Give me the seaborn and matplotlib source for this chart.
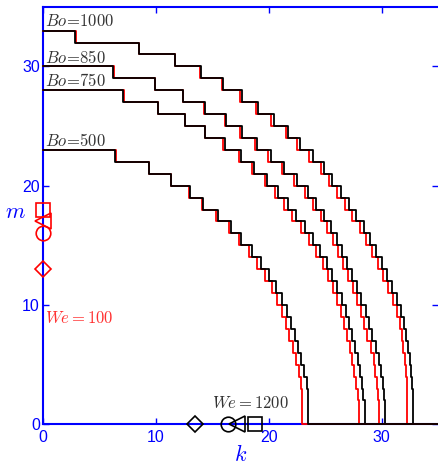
import seaborn as sns
import pandas as pd
import matplotlib.pyplot as plt

# k positions where each staircase drops one level in m (top level first)
top_1000 = 33
black_1000 = [2.85, 8.5, 11.7, 14.0, 16.0, 17.65, 19.1, 20.5, 21.75, 22.8, 23.9, 24.9, 25.65,
              26.4, 27.1, 27.75, 28.45, 29.0, 29.5, 30.05, 30.5, 30.95, 31.4, 31.75, 32.0,
              32.2, 32.36, 32.5, 32.62, 32.71, 32.77, 32.77, 32.77]
red_1000 = [2.95, 8.55, 11.7, 13.95, 15.9, 17.5, 18.9, 20.25, 21.5, 22.55, 23.6, 24.6, 25.35,
            26.1, 26.8, 27.4, 28.1, 28.65, 29.15, 29.7, 30.15, 30.55, 31.0, 31.35, 31.6,
            31.8, 31.9, 32.05, 32.15, 32.22, 32.27, 32.27, 32.27]

top_850 = 30
black_850 = [6.23, 9.91, 12.4, 14.35, 16.2, 17.65, 19.0, 20.2, 21.4, 22.5, 23.5, 24.2, 24.9,
             25.5, 26.05, 26.5, 26.97, 27.4, 27.85, 28.2, 28.6, 28.9, 29.2, 29.5, 29.75,
             29.95, 30.1, 30.2, 30.27, 30.27]
red_850 = [6.33, 9.96, 12.4, 14.3, 16.1, 17.5, 18.8, 19.95, 21.15, 22.25, 23.2, 23.9, 24.6,
           25.15, 25.7, 26.15, 26.6, 27.0, 27.45, 27.8, 28.2, 28.45, 28.75, 29.05, 29.3,
           29.45, 29.6, 29.7, 29.77, 29.77]

top_750 = 28
black_750 = [7.1, 10.2, 12.56, 14.4, 16.1, 17.56, 18.75, 19.9, 20.8, 21.7, 22.4, 23.2, 23.9,
             24.55, 25.15, 25.65, 26.1, 26.5, 26.85, 27.15, 27.4, 27.65, 27.9, 28.1, 28.25,
             28.4, 28.5, 28.5]
red_750 = [7.2, 10.25, 12.56, 14.35, 16.0, 17.4, 18.55, 19.65, 20.55, 21.4, 22.1, 22.85, 23.55,
           24.2, 24.8, 25.25, 25.7, 26.1, 26.45, 26.7, 26.95, 27.2, 27.4, 27.6, 27.75,
           27.9, 28.0, 28.0]

top_500 = 23
black_500 = [6.38, 9.4, 11.4, 13.0, 14.2, 15.5, 16.7, 17.6, 18.55, 19.3, 20.0, 20.65, 21.15,
             21.6, 22.0, 22.3, 22.6, 22.86, 23.15, 23.4, 23.53, 23.53, 23.53]
red_500 = [6.48, 9.45, 11.4, 12.95, 14.1, 15.35, 16.5, 17.35, 18.3, 19.0, 19.7, 20.3, 20.75,
           21.2, 21.55, 21.85, 22.15, 22.4, 22.65, 22.9, 23.0, 23.0, 23.0]

bo_labels = [r"$Bo\!=\!1000$", r"$Bo\!=\!850$", r"$Bo\!=\!750$", r"$Bo\!=\!500$"]
bo_label_m = [33.35, 30.3, 28.35, 23.3]

# markers: We=100 (red, on the m axis) and We=1200 (black, on the k axis)
marker_shapes = ["s", "<", "o", "D"]
marker_sizes = [9.5, 11, 10.5, 8]
we100_m = [18, 17, 16, 13]
we1200_k = [18.8, 17.2, 16.4, 13.5]

K_MAX = 35


def staircase(top, drops):
    k = [0] + drops + [K_MAX]
    m = list(range(top, -1, -1)) + [0]
    return pd.DataFrame({"k": k, "m": m})


sns.set_style("ticks")
plt.rcParams["font.family"] = ["Liberation Sans", "DejaVu Sans"]
plt.rcParams["mathtext.fontset"] = "cm"

fig = plt.figure(figsize=(4.38, 4.66), dpi=100)
ax = fig.add_axes([0.0975, 0.0895, 0.9025, 0.896])

curves = [(top_1000, black_1000, red_1000), (top_850, black_850, red_850),
          (top_750, black_750, red_750), (top_500, black_500, red_500)]
for top, blk, red in curves:
    for drops, col in [(red, "red"), (blk, "black")]:
        sns.lineplot(data=staircase(top, drops), x="k", y="m", color=col, lw=1.3,
                     drawstyle="steps-post", estimator=None, sort=False, ax=ax,
                     clip_on=False, zorder=3, legend=False)

for lab, y in zip(bo_labels, bo_label_m):
    ax.text(0.2, y, lab, fontsize=12, color="#333333", va="baseline", ha="left")

for mk, ms, m in zip(marker_shapes, marker_sizes, we100_m):
    ax.plot([0], [m], marker=mk, ms=ms, mfc="none", mec="red", mew=1.2,
            ls="none", clip_on=False, zorder=4)
for mk, ms, k in zip(marker_shapes, marker_sizes, we1200_k):
    ax.plot([k], [0], marker=mk, ms=ms, mfc="none", mec="black", mew=1.2,
            ls="none", clip_on=False, zorder=4)

ax.text(0.2, 8.47, "$We=100$", fontsize=12, color="#ff3030", va="baseline", ha="left")
ax.text(15.0, 1.34, "$We=1200$", fontsize=12, color="#333333", va="baseline", ha="left")

ax.set_xlim(0, K_MAX)
ax.set_ylim(0, 35)
ax.set_xticks([0, 10, 20, 30])
ax.set_yticks([0, 10, 20, 30])
ax.tick_params(direction="in", length=4, width=1, color="blue", labelcolor="blue",
               labelsize=11.5, top=True, right=True)
ax.tick_params(axis="y", pad=2)
ax.tick_params(axis="x", pad=4)
for side in ["left", "bottom", "top"]:
    ax.spines[side].set_color("blue")
    ax.spines[side].set_linewidth(1.5)
ax.spines["right"].set_visible(False)

ax.set_xlabel("$k$", fontsize=16, color="blue", labelpad=0)
ax.set_ylabel("$m$", fontsize=16, color="blue", rotation=0, va="center", ha="center")
ax.yaxis.set_label_coords(-0.07, 0.508)

fig.savefig("out.png", dpi=100)
